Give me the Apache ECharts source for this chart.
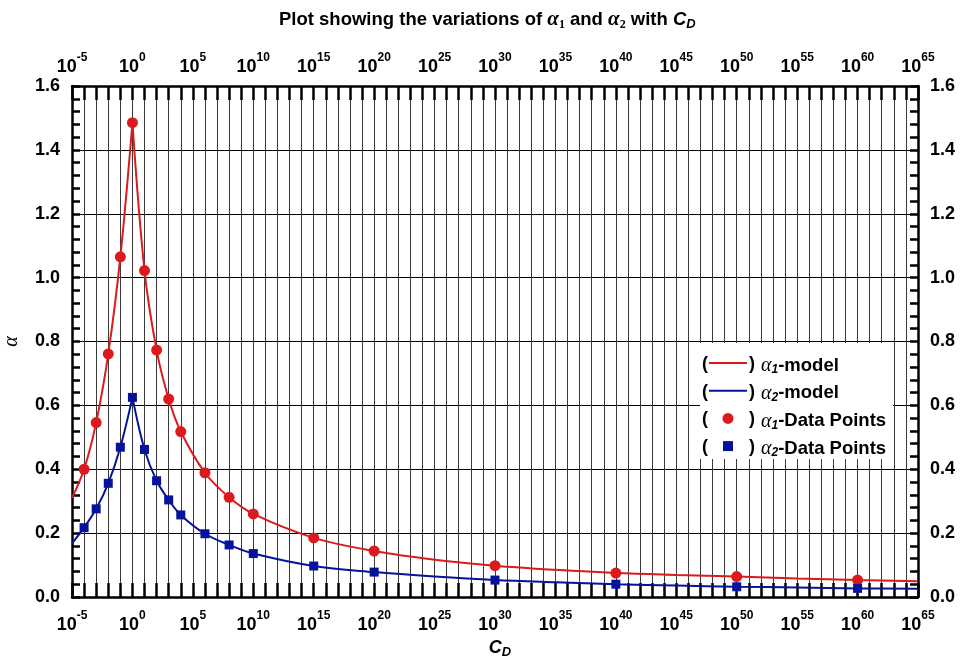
<!DOCTYPE html>
<html>
<head>
<meta charset="utf-8">
<script src="https://cdn.jsdelivr.net/npm/echarts@6/dist/echarts.min.js"></script>
<style>
  html, body { margin: 0; padding: 0; background: #fff; }
  #chart { width: 965px; height: 671px; }
</style>
</head>
<body>
<div id="chart"></div>
<script>
// C_D is plotted on a decade scale: x = log10(C_D)
const xMinExp = -5;
const xMaxExp = 65;

// Measured data points (exponent of C_D, alpha values)
const pointExp = [-4, -3, -2, -1, 0, 1, 2, 3, 4, 6, 8, 10, 15, 20, 30, 40, 50, 60];
const alpha1Points = [0.400, 0.546, 0.761, 1.065, 1.485, 1.022, 0.773, 0.620, 0.518, 0.389, 0.312, 0.260, 0.185, 0.144, 0.098, 0.075, 0.064, 0.053];
const alpha2Points = [0.217, 0.276, 0.356, 0.469, 0.625, 0.462, 0.364, 0.304, 0.257, 0.198, 0.163, 0.136, 0.097, 0.078, 0.053, 0.040, 0.032, 0.027];

// Model curves, rising branch (up to C_D = 1) and falling branch (from C_D = 1)
const modelExpLeft = [-5, -4, -3, -2, -1, 0];
const alpha1ModelLeft = [0.310, 0.400, 0.546, 0.761, 1.065, 1.485];
const alpha2ModelLeft = [0.168, 0.217, 0.276, 0.356, 0.469, 0.625];
const modelExpRight = [0, 1, 2, 3, 4, 6, 8, 10, 15, 20, 25, 30, 35, 40, 45, 50, 55, 60, 65];
const alpha1ModelRight = [1.485, 1.022, 0.773, 0.620, 0.518, 0.389, 0.312, 0.260, 0.185, 0.144, 0.117, 0.098, 0.085, 0.075, 0.069, 0.064, 0.058, 0.053, 0.049];
const alpha2ModelRight = [0.625, 0.462, 0.364, 0.304, 0.257, 0.198, 0.163, 0.136, 0.097, 0.078, 0.064, 0.053, 0.046, 0.040, 0.036, 0.032, 0.030, 0.027, 0.026];

// Legend entries
const legendLabels = [
  { key: 1, text: '-model', kind: 'line' },
  { key: 2, text: '-model', kind: 'line' },
  { key: 1, text: '-Data Points', kind: 'circle' },
  { key: 2, text: '-Data Points', kind: 'square' }
];

const RED = '#dc1a1e';
const BLUE = '#04129c';
const SANS = 'Liberation Sans, Arial, sans-serif';
const SERIF = 'Liberation Serif, Times New Roman, serif';

const zip = (xs, ys) => xs.map((x, i) => [x, ys[i]]);

const powLabelRich = {
  b: { fontFamily: SANS, fontWeight: 'bold', fontSize: 18, color: '#000', lineHeight: 24, verticalAlign: 'bottom' },
  s: { fontFamily: SANS, fontWeight: 'bold', fontSize: 12, color: '#000', lineHeight: 8, verticalAlign: 'top' }
};
const powFormatter = v => (Math.round(v) % 5 === 0 ? '{b|10}{s|' + Math.round(v) + '}' : '');

function xAxisDef(position, withGrid, margin) {
  return {
    type: 'value',
    position: position,
    min: xMinExp,
    max: xMaxExp,
    interval: 1,
    axisLine: { show: true, onZero: false, lineStyle: { color: '#000', width: 2.5 } },
    axisTick: { show: true, inside: true, length: 14, lineStyle: { color: '#000', width: 2.5 } },
    axisLabel: { show: true, margin: margin, formatter: powFormatter, rich: powLabelRich, hideOverlap: false, showMinLabel: true, showMaxLabel: true },
    splitLine: { show: withGrid, lineStyle: { color: '#3a3a3a', width: 1 } },
    minorTick: { show: false }
  };
}

function yAxisDef(position, withGrid) {
  return {
    type: 'value',
    position: position,
    min: 0,
    max: 1.6,
    interval: 0.2,
    axisLine: { show: true, onZero: false, lineStyle: { color: '#000', width: 2.5 } },
    axisTick: { show: true, inside: true, length: 8, lineStyle: { color: '#000', width: 2.5 } },
    minorTick: { show: true, splitNumber: 5, length: 8, lineStyle: { color: '#000', width: 2.5 } },
    axisLabel: {
      show: true, margin: 12,
      fontFamily: SANS, fontWeight: 'bold', fontSize: 18, color: '#000',
      formatter: v => v.toFixed(1)
    },
    splitLine: { show: withGrid, lineStyle: { color: '#000', width: 1.2 } }
  };
}

// Legend, drawn as graphic elements: "( marker ) label"
const legendX = 700, legendY = 343, rowH = 27.7, firstRow = 363;
const legendGraphics = [{
  type: 'rect', z: 100,
  shape: { x: legendX, y: legendY, width: 193, height: 116 },
  style: { fill: '#fff' }
}];
legendLabels.forEach((item, i) => {
  const cy = firstRow + i * rowH;
  const color = item.key === 1 ? RED : BLUE;
  legendGraphics.push({
    type: 'text', z: 101, x: 702, y: cy + 1,
    style: { text: '(', font: 'bold 18px ' + SANS, fill: '#000', verticalAlign: 'middle' }
  });
  legendGraphics.push({
    type: 'text', z: 101, x: 749, y: cy + 1,
    style: { text: ')', font: 'bold 18px ' + SANS, fill: '#000', verticalAlign: 'middle' }
  });
  if (item.kind === 'line') {
    legendGraphics.push({
      type: 'line', z: 101,
      shape: { x1: 709, y1: cy, x2: 747, y2: cy },
      style: { stroke: color, lineWidth: 2 }
    });
  } else if (item.kind === 'circle') {
    legendGraphics.push({
      type: 'circle', z: 101,
      shape: { cx: 728, cy: cy, r: 5.5 },
      style: { fill: color }
    });
  } else {
    legendGraphics.push({
      type: 'rect', z: 101,
      shape: { x: 723, y: cy - 5, width: 10, height: 10 },
      style: { fill: color }
    });
  }
  legendGraphics.push({
    type: 'text', z: 101, x: 761, y: cy + 3,
    style: {
      text: '{a|α}{n|' + item.key + '}{t|' + item.text + '}',
      verticalAlign: 'middle',
      rich: {
        a: { fontFamily: SERIF, fontStyle: 'italic', fontSize: 20, fill: '#000', lineHeight: 20, verticalAlign: 'top' },
        n: { fontFamily: SANS, fontStyle: 'italic', fontWeight: 'bold', fontSize: 12, fill: '#000', lineHeight: 6, verticalAlign: 'bottom' },
        t: { fontFamily: SANS, fontWeight: 'bold', fontSize: 18.5, fill: '#000', lineHeight: 20, verticalAlign: 'top' }
      }
    }
  });
});

const lineSeries = (data, color) => ({
  type: 'line',
  data: data,
  smooth: 0.35,
  showSymbol: false,
  symbol: 'none',
  lineStyle: { color: color, width: 2 },
  z: 3,
  silent: true
});

const option = {
  animation: false,
  backgroundColor: '#fff',
  title: {
    text: 'Plot showing the variations of {a|α}{n|1} and {a|α}{n|2} with {c|C}{d|D}',
    left: 274,
    top: 4,
    textStyle: {
      fontFamily: SANS, fontWeight: 'bold', fontSize: 18.5, color: '#000', lineHeight: 22,
      rich: {
        a: { fontFamily: SERIF, fontStyle: 'italic', fontSize: 21, color: '#000', lineHeight: 22 },
        n: { fontFamily: SERIF, fontSize: 12, color: '#000', lineHeight: 12, verticalAlign: 'bottom' },
        c: { fontFamily: SANS, fontStyle: 'italic', fontWeight: 'bold', fontSize: 18.5, color: '#000', lineHeight: 22 },
        d: { fontFamily: SANS, fontStyle: 'italic', fontWeight: 'bold', fontSize: 13, color: '#000', lineHeight: 12, verticalAlign: 'bottom' }
      }
    }
  },
  grid: { left: 72, right: 47, top: 86, bottom: 74, containLabel: false, outerBoundsMode: 'none' },
  xAxis: [
    Object.assign(xAxisDef('bottom', true, 13), {
      name: '{c|C}{d|D}',
      nameLocation: 'middle',
      nameGap: 38,
      nameTextStyle: {
        padding: [0, 0, 0, 10],
        rich: {
          c: { fontFamily: SANS, fontStyle: 'italic', fontWeight: 'bold', fontSize: 18, color: '#000', lineHeight: 20, verticalAlign: 'top' },
          d: { fontFamily: SANS, fontStyle: 'italic', fontWeight: 'bold', fontSize: 13, color: '#000', lineHeight: 8, verticalAlign: 'bottom' }
        }
      }
    }),
    xAxisDef('top', false, 10)
  ],
  yAxis: [
    Object.assign(yAxisDef('left', true), {
      name: 'α',
      nameLocation: 'middle',
      nameGap: 50,
      nameRotate: 90,
      nameTextStyle: { fontFamily: SERIF, fontStyle: 'italic', fontSize: 20, color: '#000' }
    }),
    yAxisDef('right', false)
  ],
  series: [
    lineSeries(zip(modelExpLeft, alpha1ModelLeft), RED),
    lineSeries(zip(modelExpRight, alpha1ModelRight), RED),
    lineSeries(zip(modelExpLeft, alpha2ModelLeft), BLUE),
    lineSeries(zip(modelExpRight, alpha2ModelRight), BLUE),
    {
      type: 'scatter',
      data: zip(pointExp, alpha1Points),
      symbol: 'circle',
      symbolSize: 11,
      itemStyle: { color: RED, opacity: 1 },
      z: 4
    },
    {
      type: 'scatter',
      data: zip(pointExp, alpha2Points),
      symbol: 'rect',
      symbolSize: 9,
      itemStyle: { color: BLUE, opacity: 1 },
      z: 4
    }
  ],
  graphic: legendGraphics
};

const chart = echarts.init(document.getElementById('chart'), null, { renderer: 'canvas' });
chart.setOption(option);
</script>
</body>
</html>
